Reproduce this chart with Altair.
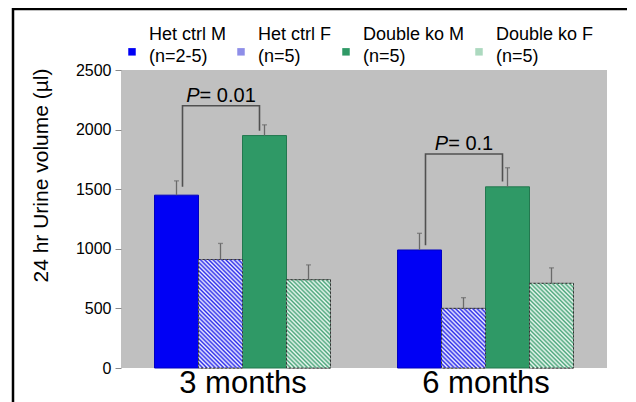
import altair as alt
import pandas as pd

# ---------------- data ----------------
groups = ["3 months", "6 months"]
group_pos = [1, 2]
series = ["Het ctrl M\n(n=2-5)", "Het ctrl F\n(n=5)", "Double ko M\n(n=5)", "Double ko F\n(n=5)"]
mean_3m = [1450, 910, 1950, 740]
mean_6m = [990, 500, 1520, 710]
err_3m = [120, 135, 90, 125]
err_6m = [140, 90, 160, 130]
y_ticks = [0, 500, 1000, 1500, 2000, 2500]

p_values = ["0.01", "0.1"]
bracket_top = [2200, 1795]
bracket_left_end = [1520, 1030]
bracket_right_end = [1990, 1565]

# ---------------- style ----------------
W, H = 486, 298
Y_MAX = 2500
BAR_W = 44 / 243          # bar width in group units
FONT = "Liberation Sans"
legend_colors = ["#0000f5", "#8e8ee8", "#2f9966", "#acd9bf"]
stroke_colors = ["#0000c0", "#444444", "#23784f", "#444444"]
hatch_style = {1: ("#2b2bea", "#f2f2ff"), 3: ("#4aa57a", "#eef9f3")}
# square legend symbol drawn a little below the first label line
LEGEND_SYMBOL = "M-1,3.5L1,3.5L1,5.5L-1,5.5Z"

means = [mean_3m, mean_6m]
errs = [err_3m, err_6m]

rows = []
for gi, g in enumerate(groups):
    for si, s in enumerate(series):
        xc = group_pos[gi] + (si - 1.5) * BAR_W
        rows.append(dict(group=g, series=s, si=si, mean=means[gi][si],
                         err=errs[gi][si], top=means[gi][si] + errs[gi][si],
                         xc=xc, x0=xc - BAR_W / 2, x1=xc + BAR_W / 2))
df = pd.DataFrame(rows)

xs = alt.Scale(domain=[0.5, 2.5], nice=False, zero=False)
ys = alt.Scale(domain=[0, Y_MAX], nice=False)

label_expr = " : ".join(
    [f"datum.value == {p} ? '{g}'" for p, g in zip(group_pos[:-1], groups[:-1])]
    + [f"'{groups[-1]}'"])

x_axis = alt.Axis(values=group_pos, labelExpr=label_expr, title=None, ticks=False,
                  domain=False, grid=False, labelFontSize=31, labelPadding=0,
                  labelColor="black", labelFont=FONT)
y_axis = alt.Axis(values=y_ticks, format="d", labelFontSize=16, labelPadding=4,
                  tickSize=6, tickColor="#8a8a8a", domain=False, grid=False,
                  labelColor="black", labelFont=FONT,
                  title="24 hr Urine volume (µl)", titleFontSize=21,
                  titleFontWeight="normal", titleFont=FONT, titleColor="black",
                  titleX=-80, titleY=105, titleAlign="center", titleBaseline="middle",
                  titleAngle=270)

base = alt.Chart(df)

bars = base.mark_rect(strokeWidth=1).encode(
    x=alt.X("x0:Q", scale=xs, axis=x_axis),
    x2="x1:Q",
    y=alt.Y("mean:Q", scale=ys, axis=y_axis),
    y2=alt.datum(0),
    fill=alt.Fill("series:N", scale=alt.Scale(domain=series, range=legend_colors),
                  legend=alt.Legend(orient="none", legendX=2, legendY=-44,
                                    direction="horizontal", title=None,
                                    symbolType=LEGEND_SYMBOL, symbolSize=56,
                                    symbolStrokeWidth=0,
                                    labelFontSize=18, labelFont=FONT,
                                    labelColor="black", labelLimit=200,
                                    labelExpr="split(datum.label, '\\n')",
                                    labelOffset=8, columnPadding=5, padding=0)),
    stroke=alt.Stroke("series:N", scale=alt.Scale(domain=series, range=stroke_colors),
                      legend=None),
)


def hatch(w_px, h_px, c_line, c_bg, period=3.0):
    k = (w_px + h_px) / (w_px ** 2 + h_px ** 2)
    length = (w_px + h_px) / 2 ** 0.5
    n = max(1, round(length / period))
    stops = []
    for i in range(n):
        stops.append({"offset": i / n, "color": c_line})
        stops.append({"offset": (i + 0.5) / n, "color": c_bg})
    stops.append({"offset": 1, "color": c_line})
    return {"gradient": "linear", "x1": 0, "y1": 1, "x2": k * w_px,
            "y2": 1 - k * h_px, "stops": stops}


hatch_layers = []
for idx, r in df.iterrows():
    if r["si"] in hatch_style:
        c_line, c_bg = hatch_style[r["si"]]
        h_px = r["mean"] * H / Y_MAX
        hatch_layers.append(
            alt.Chart(df.iloc[[idx]]).mark_rect(
                fill=hatch(44, h_px, c_line, c_bg), stroke="#333333",
                strokeDash=[2, 2], strokeWidth=1).encode(
                x=alt.X("x0:Q", scale=xs), x2="x1:Q",
                y=alt.Y("mean:Q", scale=ys), y2=alt.datum(0)))

err_rules = base.mark_rule(color="#6a6a6a", strokeWidth=1.3).encode(
    x=alt.X("xc:Q", scale=xs), y=alt.Y("mean:Q", scale=ys), y2="top:Q")
err_caps = base.mark_tick(color="#6a6a6a", thickness=1.3, size=5,
                          orient="horizontal").encode(
    x=alt.X("xc:Q", scale=xs), y=alt.Y("top:Q", scale=ys))

# brackets
LEG_L = 6 / 243
LEG_R = -5 / 243
brows = []
for ci, gp in enumerate(group_pos):
    xl = gp + (0 - 1.5) * BAR_W + LEG_L
    xr = gp + (2 - 1.5) * BAR_W + LEG_R
    pts = [(xl, bracket_left_end[ci]), (xl, bracket_top[ci]),
           (xr, bracket_top[ci]), (xr, bracket_right_end[ci])]
    for o, (px, py) in enumerate(pts):
        brows.append(dict(cmp=ci, ord=o, bx=px, by=py))
bdf = pd.DataFrame(brows)
brackets = alt.Chart(bdf).mark_line(color="#505050", strokeWidth=1.6).encode(
    x=alt.X("bx:Q", scale=xs), y=alt.Y("by:Q", scale=ys),
    detail="cmp:N", order="ord:Q")

CW = {"=": 0.584, " ": 0.278, "0": 0.556, "1": 0.556, ".": 0.278}
P_FS = 20
text_layers = []
for ci, gp in enumerate(group_pos):
    xl = gp + (0 - 1.5) * BAR_W + LEG_L
    xr = gp + (2 - 1.5) * BAR_W + LEG_R
    rest = "= " + p_values[ci]
    w_p = 0.667 * P_FS
    w_rest = sum(CW[c] for c in rest) * P_FS
    split = -(w_p + w_rest) / 2 + w_p
    tdf = pd.DataFrame({"tx": [(xl + xr) / 2], "ty": [bracket_top[ci]]})
    tb = alt.Chart(tdf)
    text_layers.append(tb.mark_text(text="P", fontStyle="italic", align="right",
                                    baseline="alphabetic", dx=split, dy=-4,
                                    fontSize=P_FS, font=FONT, color="black").encode(
        x=alt.X("tx:Q", scale=xs), y=alt.Y("ty:Q", scale=ys)))
    text_layers.append(tb.mark_text(text=rest, align="left", baseline="alphabetic",
                                    dx=split, dy=-4, fontSize=P_FS, font=FONT,
                                    color="black").encode(
        x=alt.X("tx:Q", scale=xs), y=alt.Y("ty:Q", scale=ys)))

# outer figure frame (decoration)
fdf = pd.DataFrame({"a": [0]})
frame_v = alt.Chart(fdf).mark_rule(color="black", strokeWidth=2.5).encode(
    x=alt.value(-108), y=alt.value(-62), y2=alt.value(H + 60))
frame_h = alt.Chart(fdf).mark_rule(color="black", strokeWidth=2.5).encode(
    x=alt.value(-109), x2=alt.value(W + 60), y=alt.value(-61))

chart = alt.layer(bars, *hatch_layers, err_rules, err_caps, brackets,
                  *text_layers, frame_v, frame_h).properties(
    width=W, height=H,
    autosize=alt.AutoSizeParams(type="none"),
    padding={"left": 113, "top": 62, "right": 20, "bottom": 34},
    background="white",
).configure(
    font=FONT,
    view=alt.ViewConfig(fill="#c0c0c0", stroke=None),
    style={"guide-label": {"lineHeight": 22}},
)

chart.save("out.html", embed_options={"renderer": "svg", "actions": False})
